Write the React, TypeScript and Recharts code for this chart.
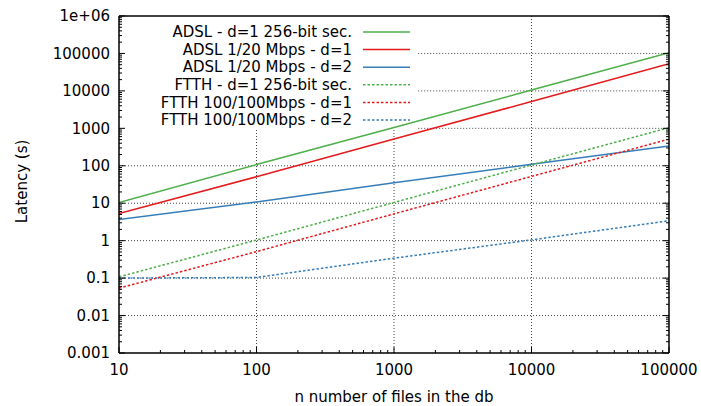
import { Legend, Line, LineChart, ReferenceLine, XAxis, YAxis } from 'recharts'

// files in the db (x) and latency in seconds (y)
const nFiles = [10, 100, 1000, 10000, 100000]
const adslSec = [10.5, 108, 1050, 10500, 105000]
const adslD1 = [5.3, 51, 520, 5200, 53000]
const adslD2 = [3.7, 10.8, 35, 110, 340]
const ftthSec = [0.108, 1.04, 10.5, 105, 1040]
const ftthD1 = [0.054, 0.51, 5.2, 52, 515]
const ftthD2 = [0.1, 0.104, 0.34, 1.05, 3.4]

const xMajor = [10, 100, 1000, 10000, 100000]
const xLabels = ['10', '100', '1000', '10000', '100000']
const yMajor = [0.001, 0.01, 0.1, 1, 10, 100, 1000, 10000, 100000, 1000000]
const yLabels = ['0.001', '0.01', '0.1', '1', '10', '100', '1000', '10000', '100000', '1e+06']

const FONT = '"DejaVu Sans", sans-serif'
const GREEN = '#4daf4a'
const RED = '#e41a1c'
const BLUE = '#377eb8'
const DOTS = '2.5 2'

const series = [
  { key: 'adslSec', name: 'ADSL - d=1 256-bit sec.', color: GREEN, dash: undefined, values: adslSec },
  { key: 'adslD1', name: 'ADSL 1/20 Mbps - d=1', color: RED, dash: undefined, values: adslD1 },
  { key: 'adslD2', name: 'ADSL 1/20 Mbps - d=2', color: BLUE, dash: undefined, values: adslD2 },
  { key: 'ftthSec', name: 'FTTH - d=1 256-bit sec.', color: GREEN, dash: DOTS, values: ftthSec },
  { key: 'ftthD1', name: 'FTTH 100/100Mbps - d=1', color: RED, dash: DOTS, values: ftthD1 },
  { key: 'ftthD2', name: 'FTTH 100/100Mbps - d=2', color: BLUE, dash: DOTS, values: ftthD2 },
]

const data = nFiles.map((n, i) => {
  const row: Record<string, number> = { n }
  series.forEach((s) => (row[s.key] = s.values[i]))
  return row
})

// gnuplot-style minor ticks at 2..9 of every decade
const withMinors = (majors: number[]) => {
  const out: number[] = []
  majors.forEach((m, i) => {
    out.push(m)
    if (i < majors.length - 1) for (let k = 2; k <= 9; k++) out.push(m * k)
  })
  return out
}
const xTicks = withMinors(xMajor)
const yTicks = withMinors(yMajor)

const majorIndex = (list: number[], v: number) => list.findIndex((m) => Math.abs(m - v) / m < 1e-6)

// the key box hides grid lines behind it
const KEY_EDGE_N = 1500
const KEY_EDGE_Y = 900

const BottomTick = (props: any) => {
  const { x, y, payload } = props
  const i = majorIndex(xMajor, payload.value)
  return (
    <g>
      <line x1={x} x2={x} y1={y} y2={y - (i >= 0 ? 6 : 3)} stroke="#000" />
      {i >= 0 && (
        <text x={x} y={y + 17} dy="0.35em" textAnchor="middle" fontSize={15} fontFamily={FONT} fill="#000">
          {xLabels[i]}
        </text>
      )}
    </g>
  )
}

const TopTick = (props: any) => {
  const { x, y, payload } = props
  const i = majorIndex(xMajor, payload.value)
  return <line x1={x} x2={x} y1={y} y2={y + (i >= 0 ? 6 : 3)} stroke="#000" />
}

const LeftTick = (props: any) => {
  const { x, y, payload } = props
  const i = majorIndex(yMajor, payload.value)
  return (
    <g>
      <line x1={x} x2={x + (i >= 0 ? 6 : 3)} y1={y} y2={y} stroke="#000" />
      {i >= 0 && (
        <text x={x - 9} y={y} dy="0.35em" textAnchor="end" fontSize={15} fontFamily={FONT} fill="#000">
          {yLabels[i]}
        </text>
      )}
    </g>
  )
}

const RightTick = (props: any) => {
  const { x, y, payload } = props
  const i = majorIndex(yMajor, payload.value)
  return <line x1={x} x2={x - (i >= 0 ? 6 : 3)} y1={y} y2={y} stroke="#000" />
}

const Key = () => (
  <svg width={268} height={108} style={{ display: 'block' }}>
    {series.map((s, i) => {
      const cy = 10 + i * 17.6
      return (
        <g key={s.key}>
          <text x={202} y={cy} dy="0.35em" textAnchor="end" fontSize={15} fontFamily={FONT} fill="#000">
            {s.name}
          </text>
          <line x1={213} x2={260} y1={cy} y2={cy} stroke={s.color} strokeWidth={1.5} strokeDasharray={s.dash} />
        </g>
      )
    })}
  </svg>
)

const gridStyle = { stroke: '#444', strokeDasharray: '1 2', strokeWidth: 1 }
const axisStyle = { stroke: '#000', strokeWidth: 1.5 }

export default function App() {
  return (
    <div style={{ position: 'absolute', left: 0, top: 0, background: '#fff' }}>
      <LineChart width={701} height={406} data={data} margin={{ top: 0, right: 0, bottom: 0, left: 0 }}>
        <XAxis
          xAxisId="b"
          dataKey="n"
          type="number"
          scale="log"
          domain={[10, 100000]}
          allowDataOverflow
          ticks={xTicks}
          interval={0}
          tickSize={0}
          tickMargin={0}
          tickLine={false}
          axisLine={axisStyle}
          height={53}
          tick={<BottomTick />}
          label={{
            content: (p: any) => (
              <text
                x={p.viewBox.x + p.viewBox.width / 2}
                y={p.viewBox.y + 44}
                dy="0.35em"
                textAnchor="middle"
                fontSize={15}
                fontFamily={FONT}
                fill="#000"
              >
                n number of files in the db
              </text>
            ),
          }}
        />
        <XAxis
          xAxisId="t"
          orientation="top"
          type="number"
          scale="log"
          domain={[10, 100000]}
          allowDataOverflow
          ticks={xTicks}
          interval={0}
          tickSize={0}
          tickMargin={0}
          tickLine={false}
          axisLine={axisStyle}
          height={16}
          tick={<TopTick />}
        />
        <YAxis
          yAxisId="l"
          type="number"
          scale="log"
          domain={[0.001, 1000000]}
          allowDataOverflow
          ticks={yTicks}
          interval={0}
          tickSize={0}
          tickMargin={0}
          tickLine={false}
          axisLine={axisStyle}
          width={119}
          tick={<LeftTick />}
          label={{
            content: (p: any) => {
              const cx = 22
              const cy = p.viewBox.y + p.viewBox.height / 2 - 3
              return (
                <text
                  x={cx}
                  y={cy}
                  dy="0.35em"
                  transform={`rotate(-90 ${cx} ${cy})`}
                  textAnchor="middle"
                  fontSize={15}
                  fontFamily={FONT}
                  fill="#000"
                >
                  Latency (s)
                </text>
              )
            },
          }}
        />
        <YAxis
          yAxisId="r"
          orientation="right"
          type="number"
          scale="log"
          domain={[0.001, 1000000]}
          allowDataOverflow
          ticks={yTicks}
          interval={0}
          tickSize={0}
          tickMargin={0}
          tickLine={false}
          axisLine={axisStyle}
          width={32}
          tick={<RightTick />}
        />

        {[0.01, 0.1, 1, 10, 100].map((v) => (
          <ReferenceLine key={`h${v}`} xAxisId="b" yAxisId="l" y={v} {...gridStyle} />
        ))}
        {[1000, 10000, 100000].map((v) => (
          <ReferenceLine
            key={`hk${v}`}
            xAxisId="b"
            yAxisId="l"
            segment={[
              { x: KEY_EDGE_N, y: v },
              { x: 100000, y: v },
            ]}
            {...gridStyle}
          />
        ))}
        <ReferenceLine xAxisId="b" yAxisId="l" x={10000} {...gridStyle} />
        {[100, 1000].map((v) => (
          <ReferenceLine
            key={`vk${v}`}
            xAxisId="b"
            yAxisId="l"
            segment={[
              { x: v, y: 0.001 },
              { x: v, y: KEY_EDGE_Y },
            ]}
            {...gridStyle}
          />
        ))}

        {series.map((s) => (
          <Line
            key={s.key}
            xAxisId="b"
            yAxisId="l"
            dataKey={s.key}
            name={s.name}
            type="linear"
            stroke={s.color}
            strokeWidth={1.5}
            strokeDasharray={s.dash}
            dot={false}
            activeDot={false}
            isAnimationActive={false}
          />
        ))}

        <Legend
          layout="vertical"
          align="center"
          verticalAlign="middle"
          wrapperStyle={{ left: 150, top: 22, width: 268, height: 108 }}
          content={<Key />}
        />
      </LineChart>
    </div>
  )
}
